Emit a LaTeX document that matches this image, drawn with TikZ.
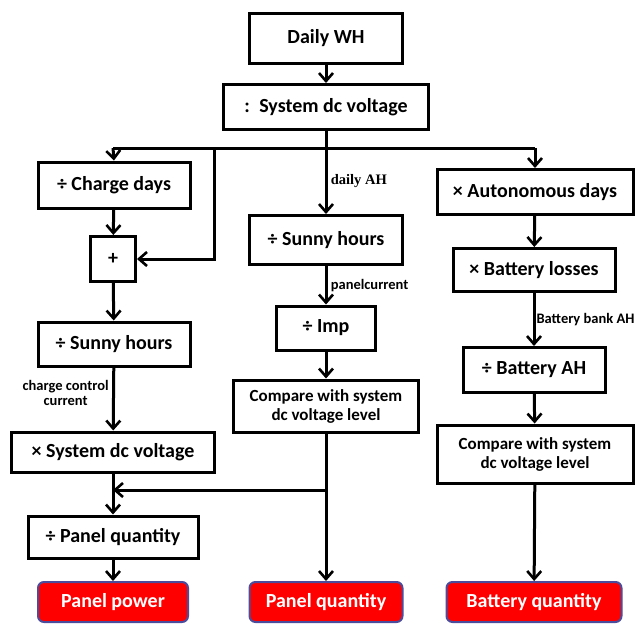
\documentclass[tikz,border=0pt]{standalone}
\usepackage{fontspec}
\setmainfont{Carlito}
\newfontfamily\lblserif{Liberation Serif}
\usetikzlibrary{arrows.meta}
\begin{document}
\begin{tikzpicture}
[x=1pt,y=-1pt,%
  stepBox/.style={draw,line width=3pt,inner sep=2pt,align=center,font=\fontsize{20}{21}\selectfont\bfseries},%
  resultBox/.style={draw=blue!45!black!70,line width=2pt,fill=red,rounded corners=6pt,text=white,font=\fontsize{20}{21}\selectfont\bfseries},%
  flowLine/.style={line width=3pt},%
  flowArrow/.style={line width=3pt,-{Straight Barb[length=8pt,width=14pt,line width=2.6pt]}},%
  edgeLabel/.style={font=\fontsize{14.5}{15}\selectfont\bfseries}]
\useasboundingbox (0,0) rectangle (638,625);
%% step boxes
\foreach \nodename/\x/\y/\w/\h/\txt in {wh/326/38/153/50/Daily WH,
  sysv/326/107/205/45/{:\, System dc voltage},
  chg/114/185/152/46/÷ Charge days, plus/113/259/45/45/+,
  sunL/114/344/152/44/÷ Sunny hours, mulv/113/452/203/40/× System dc voltage,
  pq/113/537/170/42/÷ Panel quantity,
  sunM/326/240/153/49/÷ Sunny hours, imp/326/328/99/44/÷ Imp,
  aut/535/192/196/45/× Autonomous days, loss/534/270/162/43/× Battery losses,
  bah/534/370/142/45/÷ Battery AH}
{
  \node (\nodename) at (\x,\y) [stepBox,minimum width=\w pt,minimum height=\h pt] {\txt};
}
\node (cmpM) at (326,406) [stepBox,minimum width=185pt,minimum height=52pt,font=\fontsize{17}{19}\selectfont\bfseries] {Compare with system\\dc voltage level};
\node (cmpR) at (535,454) [stepBox,minimum width=196pt,minimum height=58pt,font=\fontsize{17}{19}\selectfont\bfseries] {Compare with system\\dc voltage level};
%% result boxes
\foreach \nodename/\x/\w/\txt in {ppow/113/150/Panel power, pqty/326/153/Panel quantity, bqty/534/175/Battery quantity}
{
  \node (\nodename) at (\x,602) [resultBox,minimum width=\w pt,minimum height=40pt] {\txt};
}
%% branch points
\coordinate (br) at (326,148);
\coordinate (brL) at (113,148);
\coordinate (brR) at (535,148);
\coordinate (brP) at (214,148);
\coordinate (jn) at (326,490);
\coordinate (jnL) at (113,490);
%% branch lines
\draw[flowLine] (sysv.south) -- (br);
\draw[flowLine] (brL) -- (brR);
\draw[flowArrow] (brL) -- (chg.north);
\draw[flowArrow] (brR) -- (aut.north);
\draw[flowArrow] (brP) |- (plus.east);
\draw[flowArrow] (br) -- node[right,font=\fontsize{14.5}{15}\selectfont\lblserif\bfseries] {daily AH} (sunM.north);
\draw[flowArrow] (jn) -- (jnL);
%% straight arrows
\path
\foreach \startnode/\endnode in {wh/sysv, chg/plus, plus/sunL, mulv/pq, pq/ppow,
  imp/cmpM, cmpM/pqty, aut/loss, bah/cmpR, cmpR/bqty}
{
  (\startnode) edge[flowArrow] (\endnode)
};
%% labelled arrows
\draw[flowArrow] (sunL) -- node[edgeLabel,left,align=center,pos=0.4] {charge control\\current} (mulv);
\draw[flowArrow] (sunM) -- node[edgeLabel,right] {panelcurrent} (imp);
\draw[flowArrow] (loss) -- node[edgeLabel,right,inner sep=1pt] {Battery bank AH} (bah);
\end{tikzpicture}
\end{document}
